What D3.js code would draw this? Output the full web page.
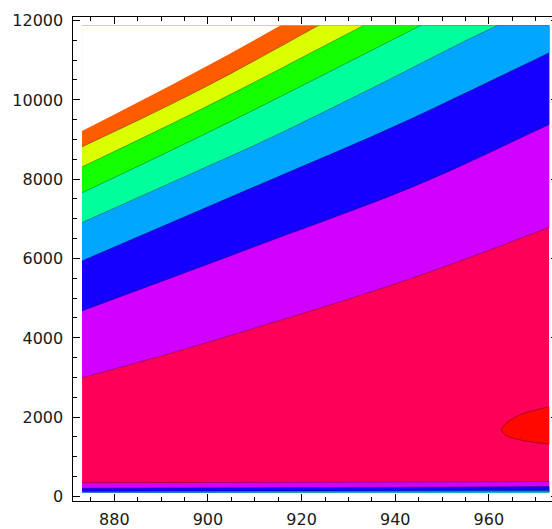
<!DOCTYPE html>
<html>
<head>
<meta charset="utf-8">
<script src="https://cdn.jsdelivr.net/npm/d3@7"></script>
<style>
  html, body { margin: 0; padding: 0; background: #fff; }
  svg { display: block; }
  .tick-label { font-family: "DejaVu Sans", Verdana, sans-serif; font-size: 16px; fill: #1a1a1a; }
</style>
</head>
<body>
<svg id="chart" width="552" height="529"></svg>
<script>
// ---- data -------------------------------------------------------------
const xTicks = [880, 900, 920, 940, 960];
const yTicks = [0, 2000, 4000, 6000, 8000, 10000, 12000];
const xMinorStep = 5;
const yMinorStep = 500;

// extent of the sampled region and of the frame (plot range plus padding)
const plotX = [873.1, 972.9];
const plotY = [100, 11870];
const frameX = [871, 975];
const frameY = [-133, 12112];

// level colours
const colPeak    = "#ff0800";
const colPink    = "#ff0058";
const colMagenta = "#d200ff";
const colBlue    = "#1500ff";
const colAzure   = "#00a6ff";
const colSpring  = "#00ff9c";
const colGreen   = "#14ff00";
const colYellow  = "#dcff00";
const colOrange  = "#ff5c00";

// contour boundaries above the pink band, [x, y] pairs (lowest first)
const edgePinkMagenta   = [[872, 2960], [892, 3610], [911, 4282], [943, 5480], [975, 6880]];
const edgeMagentaBlue   = [[872, 4630], [911.1, 6343], [947.4, 7982], [972.8, 9369], [975, 9490]];
const edgeBlueAzure     = [[872, 5885], [909, 7760], [943, 9500], [962.4, 10590], [975, 11310]];
const edgeAzureSpring   = [[872, 6847], [898.3, 8235], [909, 8800], [935, 10290], [961.7, 11866], [975, 12550]];
const edgeSpringGreen   = [[872, 7592], [898.3, 9074], [945.3, 11866], [960, 12750]];
const edgeGreenYellow   = [[872, 8247], [898.3, 9748], [933.1, 11866], [950, 12900]];
const edgeYellowOrange  = [[872, 8752], [898.3, 10252], [923.5, 11866], [940, 12950]];
const edgeDefined       = [[872, 9150], [898.3, 10757], [915.4, 11866], [930, 12850]];

// contour boundaries below the pink band (steep fall-off near the axis)
const edgeLowPinkMagenta = [[872, 345], [920, 355], [975, 375]];
const edgeLowMagentaBlue = [[872, 205], [920, 225], [975, 250]];
const edgeLowBlueAzure   = [[872, 125], [920, 138], [975, 150]];
const edgeLowAzureSpring = [[872, 90], [920, 110], [975, 125]];

// closed contour around the maximum at the right edge
const peakUpper = [[976, 2330], [972.8, 2257], [969.5, 2164], [966.6, 2055], [963.8, 1861], [963.1, 1770], [962.7, 1677]];
const peakLower = [[963.1, 1590], [963.8, 1526], [966.6, 1425], [969.5, 1367], [972.8, 1324], [976, 1300]];

// ---- drawing ----------------------------------------------------------
const svg = d3.select("#chart");

const x = d3.scaleLinear().domain(frameX).range([72.2, 559.1]);
const y = d3.scaleLinear().domain(frameY).range([501.7, 16]);

svg.append("defs").append("clipPath").attr("id", "plot-clip")
  .append("rect")
  .attr("x", x(plotX[0])).attr("y", y(plotY[1]))
  .attr("width", x(plotX[1]) - x(plotX[0]))
  .attr("height", y(plotY[0]) - y(plotY[1]));

const field = svg.append("g").attr("clip-path", "url(#plot-clip)");

// base band
field.append("rect")
  .attr("x", x(plotX[0])).attr("y", y(plotY[1]))
  .attr("width", x(plotX[1]) - x(plotX[0]))
  .attr("height", y(plotY[0]) - y(plotY[1]))
  .attr("fill", colPink);

const ceiling = 15000, floor = -1000;
const above = d3.area().curve(d3.curveMonotoneX)
  .x(d => x(d[0])).y0(d => y(d[1])).y1(y(ceiling));
const below = d3.area().curve(d3.curveMonotoneX)
  .x(d => x(d[0])).y0(y(floor)).y1(d => y(d[1]));
const edgeLine = d3.line().curve(d3.curveMonotoneX)
  .x(d => x(d[0])).y(d => y(d[1]));

const upperBands = [
  [edgePinkMagenta, colMagenta],
  [edgeMagentaBlue, colBlue],
  [edgeBlueAzure, colAzure],
  [edgeAzureSpring, colSpring],
  [edgeSpringGreen, colGreen],
  [edgeGreenYellow, colYellow],
  [edgeYellowOrange, colOrange],
  [edgeDefined, "#ffffff"]
];
upperBands.forEach(([edge, fill]) => {
  field.append("path").datum(edge).attr("d", above).attr("fill", fill);
});

const lowerBands = [
  [edgeLowPinkMagenta, colMagenta],
  [edgeLowMagentaBlue, colBlue],
  [edgeLowBlueAzure, colAzure],
  [edgeLowAzureSpring, colSpring]
];
lowerBands.forEach(([edge, fill]) => {
  field.append("path").datum(edge).attr("d", below).attr("fill", fill);
});

// peak region
const peakLine = d3.line().curve(d3.curveCatmullRom.alpha(0.5))
  .x(d => x(d[0])).y(d => y(d[1]));
const peakPts = peakUpper.concat(peakLower);
field.append("path").datum(peakPts)
  .attr("d", peakLine)
  .attr("fill", colPeak)
  .attr("stroke", "rgba(90,0,0,0.55)")
  .attr("stroke-width", 0.9);

// contour lines
const contourEdges = upperBands.slice(0, 7).map(b => b[0])
  .concat(lowerBands.map(b => b[0]));
contourEdges.forEach(edge => {
  field.append("path").datum(edge)
    .attr("d", edgeLine)
    .attr("fill", "none")
    .attr("stroke", "rgba(0,0,0,0.38)")
    .attr("stroke-width", 0.8);
});

// ---- frame and ticks --------------------------------------------------
const frame = svg.append("g").attr("shape-rendering", "crispEdges")
  .attr("stroke", "#000").attr("stroke-width", 1);

frame.append("rect")
  .attr("x", x(frameX[0])).attr("y", y(frameY[1]))
  .attr("width", x(frameX[1]) - x(frameX[0]))
  .attr("height", y(frameY[0]) - y(frameY[1]))
  .attr("fill", "none");

const majorLen = 8, minorLen = 4.5;
const xAll = d3.range(875, frameX[1] + 0.01, xMinorStep);
xAll.forEach(v => {
  const len = xTicks.includes(v) ? majorLen : minorLen;
  frame.append("line").attr("x1", x(v)).attr("x2", x(v))
    .attr("y1", y(frameY[0])).attr("y2", y(frameY[0]) - len);
  frame.append("line").attr("x1", x(v)).attr("x2", x(v))
    .attr("y1", y(frameY[1])).attr("y2", y(frameY[1]) + len);
});
const yAll = d3.range(0, frameY[1] + 0.01, yMinorStep);
yAll.forEach(v => {
  const len = yTicks.includes(v) ? majorLen : minorLen;
  frame.append("line").attr("y1", y(v)).attr("y2", y(v))
    .attr("x1", x(frameX[0])).attr("x2", x(frameX[0]) + len);
  frame.append("line").attr("y1", y(v)).attr("y2", y(v))
    .attr("x1", x(frameX[1])).attr("x2", x(frameX[1]) - len);
});

// tick labels
svg.append("g").selectAll("text").data(xTicks).join("text")
  .attr("class", "tick-label")
  .attr("x", d => x(d)).attr("y", y(frameY[0]) + 23)
  .attr("text-anchor", "middle")
  .text(d => d);

svg.append("g").selectAll("text").data(yTicks).join("text")
  .attr("class", "tick-label")
  .attr("x", x(frameX[0]) - 9).attr("y", d => y(d))
  .attr("dy", "0.36em")
  .attr("text-anchor", "end")
  .text(d => d);
</script>
</body>
</html>
